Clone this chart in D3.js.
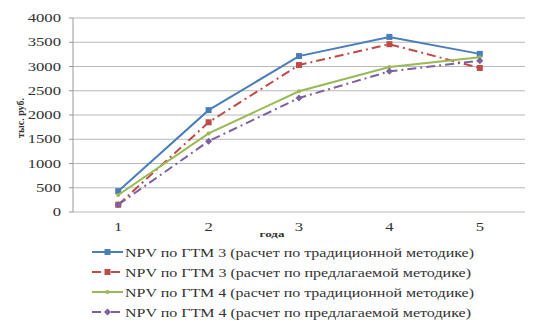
<!DOCTYPE html>
<html><head><meta charset="utf-8">
<script src="https://cdn.jsdelivr.net/npm/d3@7"></script>
<style>body{margin:0;background:#fff}svg{display:block}text{font-family:"Liberation Serif","Times New Roman","DejaVu Serif",serif}</style>
</head><body>
<svg id="c" width="544" height="334"></svg>
<script>
const categories = ["1","2","3","4","5"];
const yTicks = [0,500,1000,1500,2000,2500,3000,3500,4000];
const seriesNames = [
  "NPV по ГТМ 3 (расчет по традиционной методике)",
  "NPV по ГТМ 3 (расчет по предлагаемой методике)",
  "NPV по ГТМ 4 (расчет по традиционной методике)",
  "NPV по ГТМ 4 (расчет по предлагаемой методике)"
];
const gtm3Trad = [430, 2100, 3215, 3610, 3260];
const gtm3Prop = [150, 1850, 3030, 3460, 2970];
const gtm4Trad = [350, 1620, 2490, 2990, 3190];
const gtm4Prop = [150, 1460, 2350, 2900, 3120];

(function(){
const styles = [
  {color:"#4a7ebb", dash:null, marker:"square", size:6},
  {color:"#be4b48", dash:"9,4,2,4", marker:"square", size:6},
  {color:"#98b954", dash:null, marker:"circle", size:4},
  {color:"#7d60a0", dash:"9,4,2,4", marker:"diamond", size:6}
];
const allSeries = [gtm3Trad, gtm3Prop, gtm4Trad, gtm4Prop];
const SX = 1.45;

const svg = d3.select("#c");
const pl = 73, pr = 525, pt = 18, pb = 212;
const x = d3.scaleBand().domain(categories).range([pl, pr]);
const y = d3.scaleLinear().domain([0, 4000]).range([pb, pt]);

svg.append("g").selectAll("line").data(yTicks).join("line")
  .attr("x1", pl).attr("x2", pr)
  .attr("y1", d => y(d)).attr("y2", d => y(d))
  .attr("stroke", "#b8b8b8").attr("stroke-width", 1);
svg.append("line").attr("x1", pl).attr("x2", pl).attr("y1", pt).attr("y2", pb)
  .attr("stroke", "#999");
svg.append("g").selectAll("line").data(yTicks).join("line")
  .attr("x1", pl-4).attr("x2", pl).attr("y1", d=>y(d)).attr("y2", d=>y(d)).attr("stroke","#999");

svg.append("g").selectAll("text").data(yTicks).join("text")
  .attr("transform", d => `translate(${pl - 12},${y(d) + 4}) scale(${SX},1)`)
  .attr("text-anchor", "end").attr("font-size", 11.5)
  .attr("fill", "#333").text(d => d);

svg.append("g").selectAll("text").data(categories).join("text")
  .attr("transform", d => `translate(${x(d) + x.bandwidth()/2},${231}) scale(${SX},1)`)
  .attr("text-anchor", "middle").attr("font-size", 11.5)
  .attr("fill", "#333").text(d => d);

svg.append("text").attr("transform", "translate(24,118) rotate(-90)")
  .attr("text-anchor", "middle").attr("font-size", 10)
  .attr("font-weight", "bold").attr("fill", "#333").text("тыс. руб.");
svg.append("text").attr("transform", `translate(272,237) scale(${SX},1)`)
  .attr("text-anchor", "middle").attr("font-size", 9)
  .attr("font-weight", "bold").attr("fill", "#333").text("года");

const line = d3.line().x((d,i) => x(categories[i]) + x.bandwidth()/2).y(d => y(d));

function drawMarker(g, st, cx, cy) {
  if (st.marker === "square") {
    g.append("rect").attr("x", cx - st.size/2).attr("y", cy - st.size/2)
      .attr("width", st.size).attr("height", st.size).attr("fill", st.color);
  } else if (st.marker === "circle") {
    g.append("circle").attr("cx", cx).attr("cy", cy).attr("r", st.size/2).attr("fill", st.color);
  } else {
    const s = st.size/2 + 0.5;
    g.append("path").attr("d", `M${cx},${cy-s}L${cx+s},${cy}L${cx},${cy+s}L${cx-s},${cy}Z`).attr("fill", st.color);
  }
}

allSeries.forEach((vals, k) => {
  const st = styles[k];
  const g = svg.append("g");
  g.append("path").attr("d", line(vals)).attr("fill", "none")
    .attr("stroke", st.color).attr("stroke-width", 2)
    .attr("stroke-dasharray", st.dash);
  vals.forEach((v, i) => drawMarker(g, st, x(categories[i]) + x.bandwidth()/2, y(v)));
});

seriesNames.forEach((name, k) => {
  const st = styles[k];
  const ly = 252 + k * 20;
  const g = svg.append("g");
  g.append("line").attr("x1", 92).attr("x2", 123).attr("y1", ly).attr("y2", ly)
    .attr("stroke", st.color).attr("stroke-width", 2).attr("stroke-dasharray", st.dash);
  drawMarker(g, st, 107.5, ly);
  g.append("text").attr("x", 125).attr("y", ly + 4.5)
    .attr("font-size", 12.5).attr("fill", "#333")
    .attr("textLength", k % 2 === 0 ? 349 : 346).attr("lengthAdjust", "spacingAndGlyphs")
    .text(name);
});
})();
</script>
</body></html>
